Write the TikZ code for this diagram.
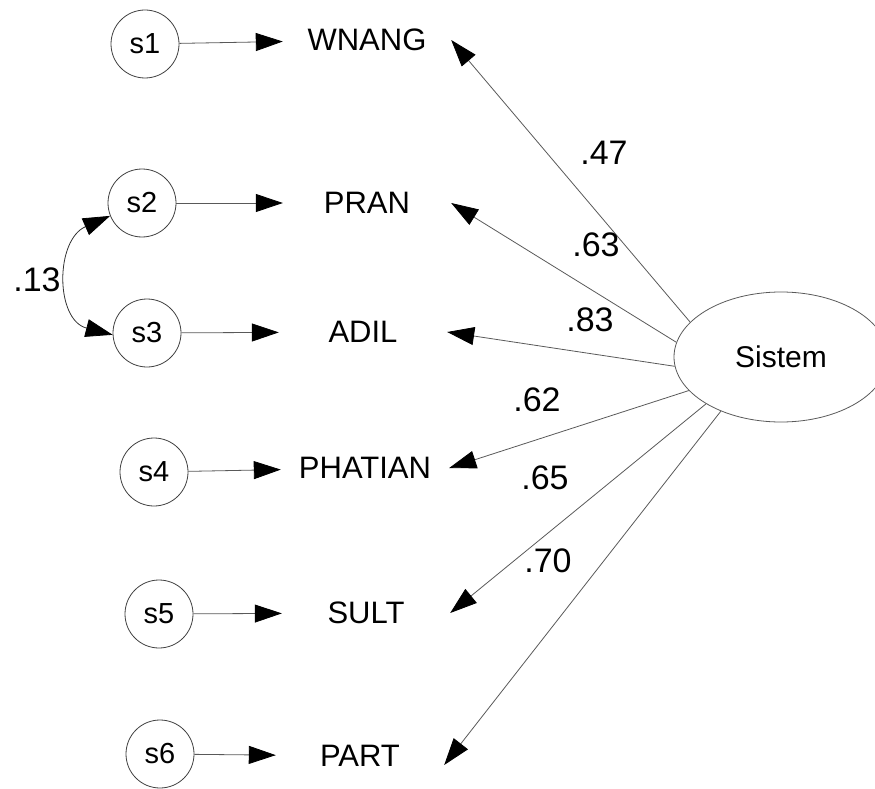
\documentclass[tikz,border=0pt]{standalone}
\usepackage{fontspec}
\setmainfont{Liberation Sans}
\usetikzlibrary{arrows.meta,shapes.geometric}
\begin{document}
\begin{tikzpicture}[x=1pt,y=-1pt,
  err/.style={circle,draw=black!75,line width=0.8pt,minimum size=68pt,inner sep=0pt,font=\fontsize{29}{29}\selectfont},
  obs/.style={minimum width=168pt,minimum height=40pt,inner sep=0pt,font=\fontsize{31}{31}\selectfont},
  lat/.style={ellipse,draw=black!65,line width=0.8pt,minimum width=214pt,minimum height=130pt,inner sep=0pt,font=\fontsize{30}{30}\selectfont},
  tip/.style={Triangle[length=27pt,width=18pt,color=black]},
  arrowline/.style={draw=black!65,line width=0.8pt,-{Triangle[length=27pt,width=18pt,color=black]}},
  cov/.style={draw=black!80,line width=0.8pt,{Triangle[length=27pt,width=18pt,color=black]}-{Triangle[length=27pt,width=18pt,color=black]}},
  coef/.style={font=\fontsize{34}{34}\selectfont,inner sep=0pt}]
\useasboundingbox (0,0) rectangle (875,789);

% error terms
\node[err] (s1) at (145,44) {s1};
\node[err] (s2) at (142,203) {s2};
\node[err] (s3) at (147,333) {s3};
\node[err] (s4) at (154,472) {s4};
\node[err] (s5) at (159,614) {s5};
\node[err] (s6) at (160,754) {s6};

% indicators
\node[obs] (wnang) at (367,40) {WNANG};
\node[obs] (pran) at (367,203) {PRAN};
\node[obs] (adil) at (363,332) {ADIL};
\node[obs] (phatian) at (365,468) {PHATIAN};
\node[obs] (sult) at (366,613) {SULT};
\node[obs] (part) at (360,756) {PART};

% latent factor
\node[lat] (sistem) at (781,357) {Sistem};

% error paths
\draw[arrowline] (s1) -- (wnang);
\draw[arrowline] (s2) -- (pran);
\draw[arrowline] (s3) -- (adil);
\draw[arrowline] (s4) -- (phatian);
\draw[arrowline] (s5) -- (sult);
\draw[arrowline] (s6) -- (part);

% loadings
\draw[arrowline] (sistem.159) -- (wnang.east);
\draw[arrowline] (sistem.172) -- (pran.east);
\draw[arrowline] (sistem.185) -- (adil.east);
\draw[arrowline] (sistem.200) -- (phatian.east);
\draw[arrowline] (sistem.212) -- (sult.east);
\draw[arrowline] (sistem.222) -- ([yshift=-9pt]part.east);

% error covariance
\draw[cov] (s2.202) .. controls (55,240) and (55,320) .. (s3.183);

% coefficients
\node[coef] (c13) at (37,280) {.13};
\node[coef] (c47) at (604,153) {.47};
\node[coef] (c63) at (596,245) {.63};
\node[coef] (c83) at (590,320) {.83};
\node[coef] (c62) at (537,400) {.62};
\node[coef] (c65) at (545,478) {.65};
\node[coef] (c70) at (548,561) {.70};
\end{tikzpicture}
\end{document}
